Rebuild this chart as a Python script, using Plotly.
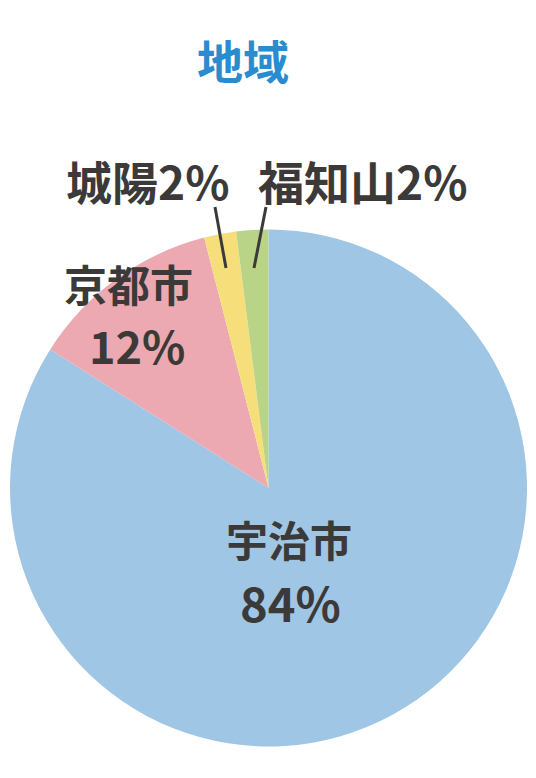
import plotly.graph_objects as go

labels = ["宇治市", "京都市", "城陽", "福知山"]
values = [84, 12, 2, 2]
colors = ["#9fc6e4", "#eca9b1", "#f6df7b", "#b9d486"]
title_text = "地域"

W, H = 528, 760
OFF = 8  # page body margin offset

def px(x):
    return (x - OFF) / W

def py(y):
    return 1 - (y - OFF) / H

fig = go.Figure()
fig.add_trace(go.Pie(
    labels=labels,
    values=values,
    sort=False,
    direction="clockwise",
    rotation=0,
    marker=dict(colors=colors, line=dict(width=0)),
    textinfo="none",
    hoverinfo="label+percent",
    showlegend=False,
    domain=dict(x=[px(10), px(527)], y=[py(746.5), py(229.5)]),
))

txt_font = dict(family="Noto Sans CJK JP", size=44, color="#3c3939", weight="bold")

def pct(i):
    return f"{values[i]}%"

annos = [
    dict(x=px(289), y=py(538), text=labels[0], size=42),
    dict(x=px(290), y=py(601), text=pct(0), size=47),
    dict(x=px(128), y=py(283), text=labels[1], size=43),
    dict(x=px(137), y=py(344), text=pct(1), size=45),
    dict(x=px(147), y=py(180), text=labels[2] + pct(2), size=46),
    dict(x=px(362), y=py(180), text=labels[3] + pct(3), size=46),
]
for a in annos:
    f = dict(txt_font)
    f["size"] = a.pop("size")
    fig.add_annotation(xref="paper", yref="paper", xanchor="center", yanchor="middle",
                       showarrow=False, font=f, **a)

fig.add_annotation(xref="paper", yref="paper", x=px(243), y=py(59), text=title_text,
                   showarrow=False, xanchor="center", yanchor="middle",
                   font=dict(family="Noto Sans CJK JP", size=46, color="#2a8ccf", weight="bold"))

for (x0, y0, x1, y1) in [(215, 207, 226, 268), (266, 207, 254, 268)]:
    fig.add_shape(type="line", xref="paper", yref="paper",
                  x0=px(x0), y0=py(y0), x1=px(x1), y1=py(y1),
                  line=dict(color="#3c3939", width=3))

fig.update_layout(width=W, height=H, margin=dict(l=0, r=0, t=0, b=0),
                  paper_bgcolor="white", plot_bgcolor="white")
fig.write_html("out.html")
